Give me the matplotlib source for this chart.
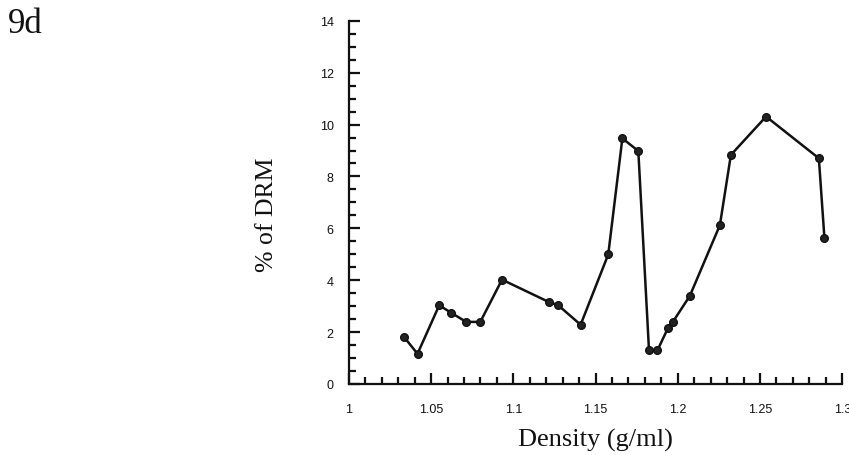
import matplotlib
matplotlib.use("Agg")
import matplotlib.pyplot as plt
from matplotlib.ticker import MultipleLocator, FixedLocator

density = [1.0335, 1.0417, 1.0549, 1.0620, 1.0713, 1.0799, 1.0931, 1.1215, 1.1273,
           1.1409, 1.1577, 1.1663, 1.1760, 1.1825, 1.1876, 1.1940, 1.1970, 1.2073,
           1.2256, 1.2323, 1.2537, 1.2858, 1.2892]
pct_drm = [1.81, 1.16, 3.03, 2.75, 2.39, 2.39, 4.02, 3.16, 3.03,
           2.28, 4.99, 9.47, 8.98, 1.29, 1.29, 2.15, 2.39, 3.39,
           6.12, 8.83, 10.31, 8.70, 5.61]
x_ticks = [1, 1.05, 1.1, 1.15, 1.2, 1.25, 1.3]
x_ticklabels = ["1", "1.05", "1.1", "1.15", "1.2", "1.25", "1.3"]
y_ticks = [0, 2, 4, 6, 8, 10, 12, 14]

fig = plt.figure(figsize=(8.49, 4.56), dpi=100)
ax = fig.add_axes([0.411, 0.156, 0.581, 0.796])
ax.plot(density, pct_drm, color="#111111", lw=1.8, marker="o", ms=5.5,
        mfc="#222222", mec="#111111", clip_on=False)
ax.set_xlim(1, 1.3)
ax.set_ylim(0, 14)
for s in ["top", "right"]:
    ax.spines[s].set_visible(False)
for s in ["left", "bottom"]:
    ax.spines[s].set_linewidth(1.6)
    ax.spines[s].set_color("#111111")

ax.xaxis.set_major_locator(FixedLocator(x_ticks))
ax.set_xticklabels(x_ticklabels)
ax.xaxis.set_minor_locator(MultipleLocator(0.01))
ax.yaxis.set_major_locator(FixedLocator(y_ticks))
ax.yaxis.set_minor_locator(MultipleLocator(0.5))
ax.tick_params(which="both", direction="in", color="#111111", width=1.6)
ax.tick_params(which="major", length=8)
ax.tick_params(which="minor", length=5)
ax.tick_params(axis="x", which="major", pad=14, labelsize=9)
ax.tick_params(axis="y", which="major", pad=11, labelsize=9)
for lbl in ax.get_xticklabels() + ax.get_yticklabels():
    lbl.set_fontfamily("Liberation Sans")
    lbl.set_color("#111111")

ax.set_xlabel("Density (g/ml)", fontfamily="Liberation Serif", fontsize=19, color="#111111")
ax.set_ylabel("% of DRM", fontfamily="Liberation Serif", fontsize=18.5, color="#111111")
ax.xaxis.label.set_va("center")
ax.xaxis.set_label_coords(0.5, -0.152)
ax.yaxis.label.set_va("center")
ax.yaxis.label.set_ha("center")
ax.yaxis.set_label_coords(-0.166, 0.468)
fig.text(0.009, 0.947, "9d", fontfamily="Liberation Serif", fontsize=25, va="center", ha="left", color="#111111")

fig.savefig("out.png", dpi=100)
